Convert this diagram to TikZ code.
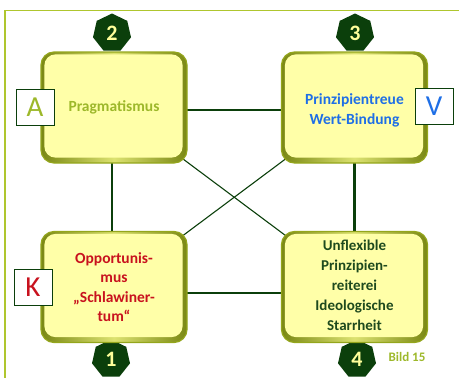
\documentclass[tikz,border=0pt]{standalone}
\usepackage{fontspec}
\setmainfont{Carlito}
\usetikzlibrary{shapes.geometric}
\pgfdeclarelayer{bg}
\pgfsetlayers{bg,main}
\definecolor{dkgreen}{HTML}{0B3F0B}
\definecolor{framecol}{HTML}{AFC62E}
\definecolor{olivetext}{HTML}{9DB82A}
\definecolor{bluetext}{HTML}{1F6FE6}
\definecolor{redtext}{HTML}{C8121E}
\definecolor{greentext}{HTML}{1E4A1E}
\definecolor{boxfill}{HTML}{FFFFA8}
\definecolor{boxedge}{HTML}{94A61C}
\definecolor{rimdark}{HTML}{7A8814}
\definecolor{rimlight}{HTML}{DCE270}
\definecolor{numcol}{HTML}{FFFF9A}
\begin{document}
\begin{tikzpicture}[x=1pt,y=-1pt,
  box/.style={draw=boxedge, line width=1.2pt, rounded corners=13pt,
    minimum width=146pt, minimum height=111pt, inner sep=0pt,
    left color=rimdark, right color=rimdark, middle color=rimlight,
    align=center},
  inner/.style={fill=boxfill, rounded corners=11pt},
  boxtext/.style={font=\fontsize{15.5}{19.5}\selectfont\bfseries, align=center},
  hept/.style={regular polygon, regular polygon sides=7, fill=dkgreen,
    minimum size=39pt, inner sep=0pt, text=numcol,
    font=\fontsize{22}{22}\selectfont\bfseries},
  letter/.style={draw=dkgreen, line width=0.9pt, fill=white,
    minimum width=38pt, minimum height=36pt, inner sep=0pt,
    font=\fontsize{29}{29}\selectfont},
  thickline/.style={draw=dkgreen, line width=2.2pt},
  midline/.style={draw=dkgreen, line width=1.6pt},
  thinline/.style={draw=dkgreen, line width=1.1pt}]
\useasboundingbox (0,0) rectangle (459,378);
\draw[framecol, line width=1.6pt] (5,378) -- (5,10.5) -- (459,10.5);

\node[hept] (n2) at (112,33) {2};
\node[hept] (n3) at (355,33) {3};
\node[hept] (n1) at (111,359) {1};
\node[hept] (n4) at (357,359) {4};

\node[box] (b2) at (114,107.5) {};
\node[box] (b3) at (354.5,107.5) {};
\node[box] (b1) at (114,287) {};
\node[box] (b4) at (354.5,287) {};
\foreach \b in {b1,b2,b3,b4}{
  \fill[inner] ([shift={(4,3)}]\b.north west) rectangle ([shift={(-5,-6)}]\b.south east);
}
\node[boxtext, text=olivetext] (t2) at (b2) {Pragmatismus};
\node[boxtext, text=bluetext] (t3) at ([yshift=-3]b3) {Prinzipientreue\\Wert-Bindung};
\node[boxtext, text=redtext] (t1) at (b1) {Opportunis-\\mus\\„Schlawiner-\\tum“};
\node[boxtext, font=\fontsize{15}{20}\selectfont\bfseries, text=greentext] (t4) at ([yshift=2]b4) {Unflexible\\Prinzipien-\\reiterei\\Ideologische\\Starrheit};

\begin{pgfonlayer}{bg}
\draw[midline] ([yshift=-2.5]b2.center) -- ([yshift=-2.5]b3.center);
\draw[midline] ([yshift=-6]b1.center) -- ([yshift=-6]b4.center);
\draw[thickline] ([xshift=-2]b2.center) -- ([xshift=-2]b1.center);
\draw[thickline] (b3.center) -- (b4.center);
\draw[thinline] (b2.center) -- (b4.center);
\draw[thinline] (b3.center) -- (b1.center);
\end{pgfonlayer}

\node[letter, text=olivetext] (la) at (35,107) {A};
\node[letter, text=bluetext] (lv) at (434,106) {V};
\node[letter, text=redtext] (lk) at (33,287) {K};

\node[font=\fontsize{13}{13}\selectfont\bfseries, text=olivetext] (bild) at (407,357) {Bild 15};
\end{tikzpicture}
\end{document}
